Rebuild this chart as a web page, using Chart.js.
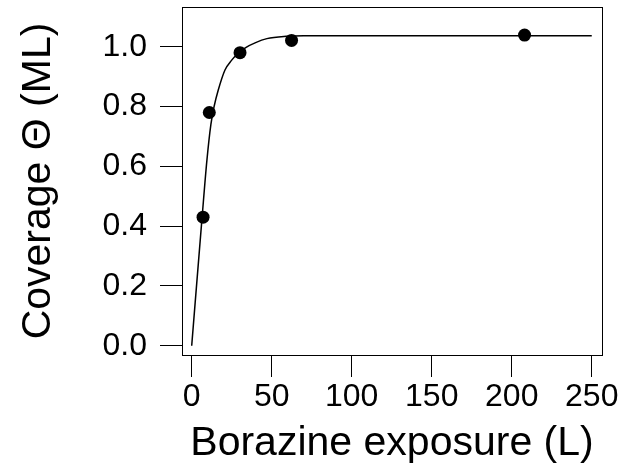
<!DOCTYPE html>
<html>
<head>
<meta charset="utf-8">
<script src="https://cdn.jsdelivr.net/npm/chart.js@4"></script>
<style>
  html, body { margin: 0; padding: 0; background: #fff; }
  #wrap { width: 630px; height: 467px; }
</style>
</head>
<body>
<div id="wrap"><canvas id="c" width="630" height="467"></canvas></div>
<script>
// Measured coverage vs. exposure
const exposure = [7.1, 11.0, 30.2, 62.4, 208.0];
const coverage = [0.43, 0.78, 0.98, 1.021, 1.039];

// Uptake fit curve
const fitExposure = [0, 6.5, 9.5, 12, 14, 16.6, 20.8, 25, 29, 34, 39.6, 47, 59, 70, 250];
const fitCoverage = [0.0, 0.43, 0.62, 0.74, 0.80, 0.855, 0.922, 0.955, 0.978, 0.998, 1.013, 1.027, 1.035, 1.037, 1.037];

const xTicks = [0, 50, 100, 150, 200, 250];
const yTicks = [0.0, 0.2, 0.4, 0.6, 0.8, 1.0];

const FONT = '"Liberation Sans", Arial, Helvetica, sans-serif';

const frame = {
  id: 'frame',
  afterDraw(chart) {
    const { ctx, chartArea: a } = chart;
    ctx.save();
    ctx.strokeStyle = '#000';
    ctx.lineWidth = 1;
    ctx.strokeRect(Math.round(a.left) + 0.5, Math.round(a.top) + 0.5,
                   Math.round(a.right - a.left), Math.round(a.bottom - a.top));
    ctx.restore();
  }
};

new Chart(document.getElementById('c'), {
  type: 'scatter',
  data: {
    datasets: [
      {
        data: fitExposure.map((x, i) => ({ x, y: fitCoverage[i] })),
        showLine: true,
        borderColor: '#000',
        borderWidth: 1.5,
        pointRadius: 0,
        cubicInterpolationMode: 'monotone',
        fill: false
      },
      {
        data: exposure.map((x, i) => ({ x, y: coverage[i] })),
        showLine: false,
        pointRadius: 6.5,
        pointBackgroundColor: '#000',
        pointBorderColor: '#000',
        pointBorderWidth: 0
      }
    ]
  },
  options: {
    responsive: false,
    devicePixelRatio: 1,
    animation: false,
    layout: { padding: { top: 7, right: 28, left: 0, bottom: 0 } },
    plugins: { legend: { display: false }, tooltip: { enabled: false } },
    scales: {
      x: {
        type: 'linear',
        min: -6.06,
        max: 256.4,
        afterFit(s) { s.height = 112; s.paddingLeft = 0; s.paddingRight = 0; },
        afterBuildTicks(s) { s.ticks = xTicks.map(v => ({ value: v })); },
        grid: { drawOnChartArea: false, drawTicks: true, tickLength: 22, color: '#000', lineWidth: 1 },
        border: { display: true, color: '#000', width: 1 },
        ticks: {
          color: '#000',
          padding: 4,
          maxRotation: 0,
          font: { family: FONT, size: 32, lineHeight: 1 },
          callback: v => String(v)
        },
        title: {
          display: true,
          text: 'Borazine exposure (L)',
          color: '#000',
          font: { family: FONT, size: 41, lineHeight: 1 },
          padding: { top: 0, bottom: 3 }
        }
      },
      y: {
        type: 'linear',
        min: -0.0311,
        max: 1.1328,
        afterFit(s) { s.width = 182; s.paddingTop = 0; s.paddingBottom = 0; },
        afterBuildTicks(s) { s.ticks = yTicks.map(v => ({ value: v })); },
        grid: { drawOnChartArea: false, drawTicks: true, tickLength: 22, color: '#000', lineWidth: 1 },
        border: { display: true, color: '#000', width: 1 },
        ticks: {
          color: '#000',
          padding: 13,
          font: { family: FONT, size: 32, lineHeight: 1 },
          callback: v => Number(v).toFixed(1)
        },
        title: {
          display: true,
          text: 'Coverage Θ (ML)',
          color: '#000',
          font: { family: FONT, size: 41, lineHeight: 1 },
          padding: { top: 18, bottom: 0 }
        }
      }
    }
  },
  plugins: [frame]
});
</script>
</body>
</html>
